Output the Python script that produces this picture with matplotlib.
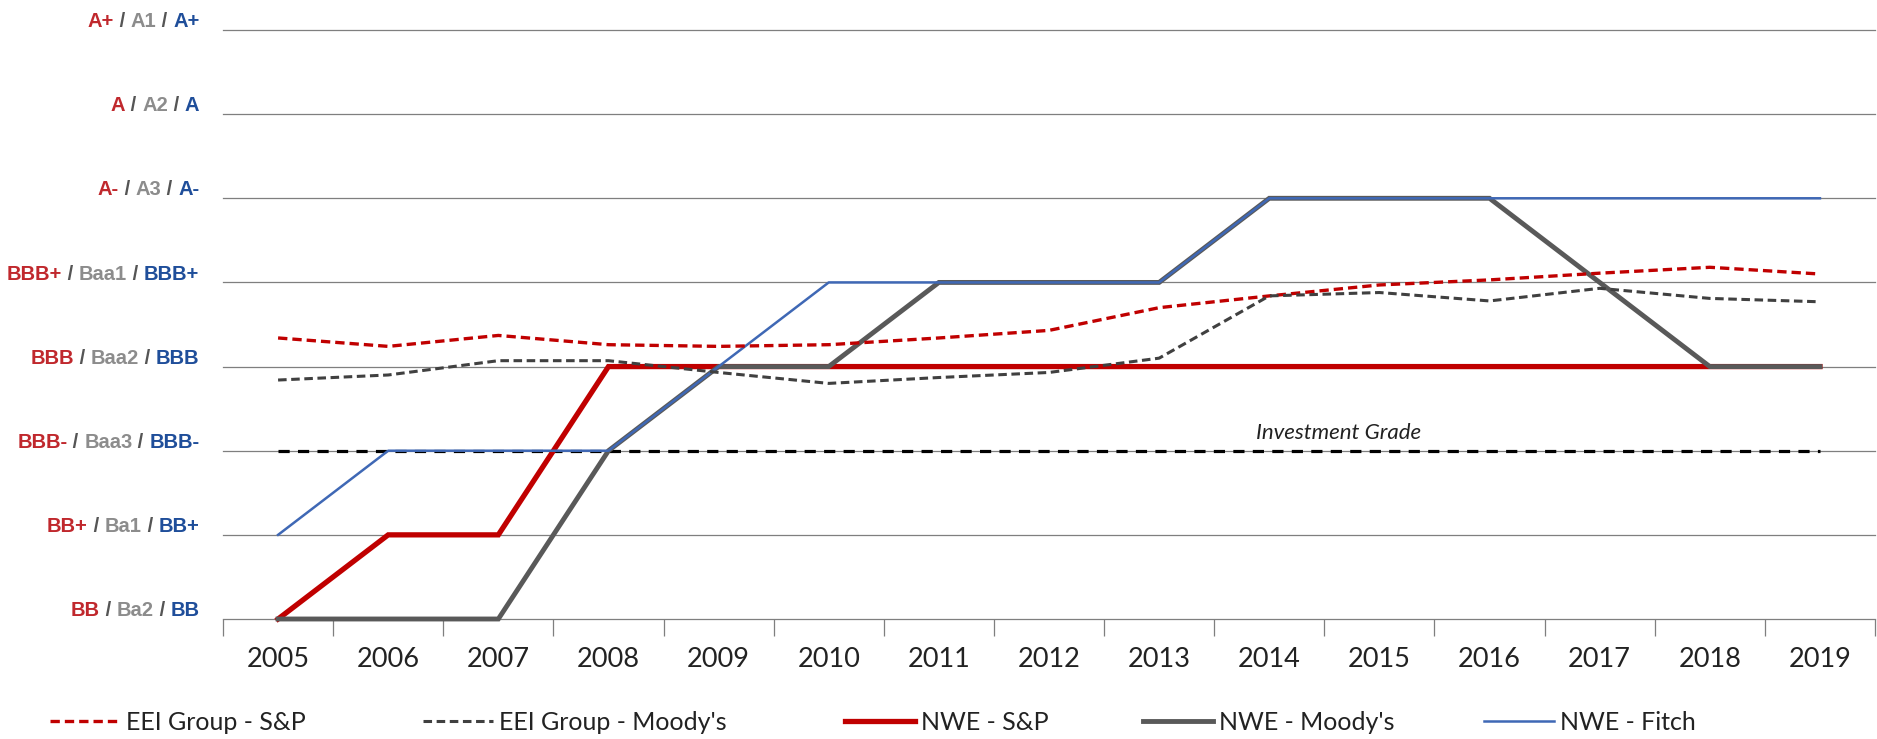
import numpy as np
import matplotlib
matplotlib.use("Agg")
import matplotlib.pyplot as plt
from matplotlib.lines import Line2D
from matplotlib.offsetbox import TextArea, HPacker, AnnotationBbox

years = [str(y) for y in range(2005, 2020)]

# rating scale: 0 = BB ... 7 = A+
sp_labels = ["BB", "BB+", "BBB-", "BBB", "BBB+", "A-", "A", "A+"]
moodys_labels = ["Ba2", "Ba1", "Baa3", "Baa2", "Baa1", "A3", "A2", "A1"]
fitch_labels = ["BB", "BB+", "BBB-", "BBB", "BBB+", "A-", "A", "A+"]

eei_sp = [3.34, 3.24, 3.37, 3.26, 3.24, 3.26, 3.34, 3.43, 3.70, 3.84, 3.97, 4.03, 4.11, 4.18, 4.10]
eei_moodys = [2.84, 2.90, 3.07, 3.07, 2.93, 2.80, 2.87, 2.93, 3.10, 3.84, 3.88, 3.78, 3.93, 3.81, 3.77]
nwe_sp = [0, 1, 1, 3, 3, 3, 3, 3, 3, 3, 3, 3, 3, 3, 3]
nwe_moodys = [0, 0, 0, 2, 3, 3, 4, 4, 4, 5, 5, 5, 4, 3, 3]
nwe_fitch = [1, 2, 2, 2, 3, 4, 4, 4, 4, 5, 5, 5, 5, 5, 5]
invest_grade = 2

RED = "#C00000"
GRAY = "#595959"
FITCH = "#3F68B5"
LBL_RED = "#C0282D"
LBL_GRAY = "#8C8C8C"
LBL_BLUE = "#1F4E9A"

plt.rcParams["font.family"] = ["Lato", "DejaVu Sans"]

fig = plt.figure(figsize=(18.77, 7.39), dpi=100)
W, H = 1877, 739
ax = fig.add_axes([223 / W, 1 - 619 / H, (1875 - 223) / W, (619 - 30) / H])
x = np.arange(len(years))

for lv in range(len(sp_labels)):
    ax.axhline(lv, color="#7F7F7F", lw=0.9, zorder=1, clip_on=False)

ax.plot(x, [invest_grade] * len(x), color="black", lw=2.3, dashes=(3.5, 2.6), zorder=2)
ax.text(9.63, invest_grade + 0.21, "Investment Grade", style="italic", fontsize=16,
        ha="center", va="center", color="#222222")

ax.plot(x, nwe_sp, color=RED, lw=3.8, zorder=3, clip_on=False, solid_joinstyle="miter")
ax.plot(x, nwe_moodys, color=GRAY, lw=3.5, zorder=4, clip_on=False, solid_joinstyle="miter")
ax.plot(x, nwe_fitch, color=FITCH, lw=1.8, zorder=5, clip_on=False)
ax.plot(x, eei_sp, color=RED, lw=2.4, dashes=(2.8, 1.5), zorder=6)
ax.plot(x, eei_moodys, color="#404040", lw=2.2, dashes=(2.8, 1.5), zorder=6)

ax.set_xlim(-0.5, len(years) - 0.5)
ax.set_ylim(0, 7)
for s in ax.spines.values():
    s.set_visible(False)
ax.set_yticks([])
ax.set_xticks(x)
ax.set_xticklabels(years, fontsize=19.5)
ax.set_xticks(np.arange(-0.5, len(years)), minor=True)
ax.tick_params(axis="x", which="major", length=0, pad=20, colors="#222222")
ax.tick_params(axis="x", which="minor", length=12, width=0.9, color="#7F7F7F")

# multi-coloured rating labels
for lv in range(len(sp_labels)):
    parts = [(sp_labels[lv], LBL_RED), (" / ", "#555555"), (moodys_labels[lv], LBL_GRAY),
             (" / ", "#555555"), (fitch_labels[lv], LBL_BLUE)]
    boxes = [TextArea(t, textprops=dict(color=c, fontsize=14.5, fontweight="bold",
                                        family="Liberation Sans")) for t, c in parts]
    pack = HPacker(children=boxes, pad=0, sep=0, align="center")
    ab = AnnotationBbox(pack, (0, lv), xycoords=("axes fraction", "data"),
                        xybox=(-17, 6), boxcoords="offset points",
                        box_alignment=(1, 0.5), frameon=False, annotation_clip=False)
    ax.add_artist(ab)

# legend, one entry per block
legend_items = [
    ("EEI Group - S&P", dict(color=RED, lw=2.4, dashes=(2.8, 1.5)), 50),
    ("EEI Group - Moody's", dict(color="#404040", lw=2.2, dashes=(2.8, 1.5)), 423),
    ("NWE - S&P", dict(color=RED, lw=3.8), 845),
    ("NWE - Moody's", dict(color=GRAY, lw=3.5), 1143),
    ("NWE - Fitch", dict(color=FITCH, lw=1.8), 1484),
]
for label, style, px in legend_items:
    h = Line2D([], [], **style)
    fig.legend([h], [label], loc="center left", bbox_to_anchor=(px / W, 1 - 722 / H),
               frameon=False, fontsize=18, handlelength=2.8, handletextpad=0.25,
               borderpad=0, borderaxespad=0, labelcolor="#222222")

fig.savefig("out.png", dpi=100)
